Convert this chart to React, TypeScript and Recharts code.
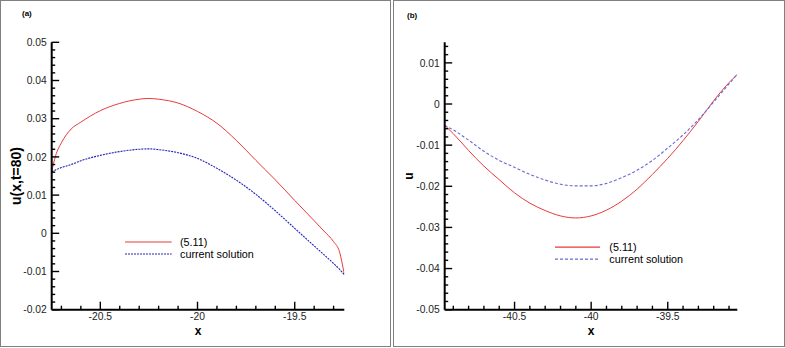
import { Legend, Line, LineChart, XAxis, YAxis } from "recharts";

// panel (a): u(x, t=80)
const xA = [-20.75, -20.73, -20.7, -20.65, -20.6, -20.5, -20.4, -20.3, -20.25, -20.2, -20.1, -20.0,
    -19.9, -19.8, -19.7, -19.6, -19.5, -19.4, -19.35, -19.3, -19.27, -19.245];
const exactA = [0.0161, 0.0203, 0.0237, 0.0273, 0.0291, 0.0321, 0.034, 0.0351, 0.0353, 0.0351, 0.0341, 0.0319,
    0.0288, 0.0243, 0.0191, 0.014, 0.0086, 0.0033, 0.0006, -0.0022, -0.0048, -0.0108];
const currentA = [0.0161, 0.0166, 0.0172, 0.018, 0.019, 0.0204, 0.0214, 0.022, 0.0221, 0.0219, 0.0211, 0.0196,
    0.017, 0.0139, 0.0102, 0.0059, 0.0013, -0.0033, -0.0056, -0.0079, -0.0094, -0.0108];

// panel (b): u
const xB = [-40.956, -40.9, -40.8, -40.7, -40.6, -40.5, -40.4, -40.3, -40.2, -40.1, -40.0,
    -39.9, -39.8, -39.7, -39.6, -39.5, -39.4, -39.3, -39.2, -39.1, -39.046];
const exactB = [-0.0052, -0.0072, -0.0113, -0.0151, -0.0184, -0.0216, -0.0241, -0.0259, -0.0272, -0.0277, -0.0272,
    -0.0258, -0.0236, -0.0207, -0.0171, -0.0132, -0.0089, -0.0042, 0.0008, 0.0052, 0.0072];
const currentB = [-0.0052, -0.0063, -0.0088, -0.0115, -0.0137, -0.0154, -0.0171, -0.0185, -0.0195, -0.0199, -0.0199,
    -0.0193, -0.0179, -0.0161, -0.0137, -0.0107, -0.0075, -0.0038, 0.0005, 0.0049, 0.0072];

const majorXTicksA = [-20.5, -20, -19.5];
const minorXTicksA = [-20.7, -20.6, -20.4, -20.3, -20.2, -20.1, -19.9, -19.8, -19.7, -19.6, -19.4, -19.3];
const majorYTicksA = [-0.02, -0.01, 0, 0.01, 0.02, 0.03, 0.04, 0.05];
const minorYTicksA = [-0.018, -0.016, -0.014, -0.012, -0.008, -0.006, -0.004, -0.002, 0.002, 0.004, 0.006, 0.008,
    0.012, 0.014, 0.016, 0.018, 0.022, 0.024, 0.026, 0.028, 0.032, 0.034, 0.036, 0.038, 0.042, 0.044, 0.046, 0.048];

const majorXTicksB = [-40.5, -40, -39.5];
const minorXTicksB = [-40.9, -40.8, -40.7, -40.6, -40.4, -40.3, -40.2, -40.1, -39.9, -39.8, -39.7, -39.6,
    -39.4, -39.3, -39.2, -39.1];
const majorYTicksB = [-0.05, -0.04, -0.03, -0.02, -0.01, 0, 0.01];
const minorYTicksB = [-0.048, -0.046, -0.044, -0.042, -0.038, -0.036, -0.034, -0.032, -0.028, -0.026, -0.024, -0.022,
    -0.018, -0.016, -0.014, -0.012, -0.008, -0.006, -0.004, -0.002, 0.002, 0.004, 0.006, 0.008, 0.012, 0.014];

const seriesNames = { exact: "(5.11)", current: "current solution" };

const FONT = "'Liberation Sans', Arial, sans-serif";
const TICK_FONT = 10.3;

const YTick = (props: any) => {
    const { x, y, payload, major } = props;
    const isMajor = major.includes(payload.value);
    return (
        <g>
            <line x1={x} x2={x + (isMajor ? 7.5 : 3.5)} y1={y} y2={y} stroke="#000" strokeWidth={1.4}/>
            {isMajor && (
                <text x={x - 5} y={y} dy="0.36em" textAnchor="end" fontSize={TICK_FONT} fontFamily={FONT} fill="#222">
                    {String(payload.value)}
                </text>
            )}
        </g>
    );
};

const XTick = (props: any) => {
    const { x, y, payload, major } = props;
    const isMajor = major.includes(payload.value);
    return (
        <g>
            <line x1={x} x2={x} y1={y} y2={y - (isMajor ? 8 : 4)} stroke="#000" strokeWidth={1.4}/>
            {isMajor && (
                <text x={x} y={y + 3} dy="0.75em" textAnchor="middle" fontSize={TICK_FONT} fontFamily={FONT} fill="#222">
                    {String(payload.value)}
                </text>
            )}
        </g>
    );
};

const LegendBox = ({ payload, dashes, rowHeight, lineLength, gap }: any) => (
    <div style={{ fontFamily: FONT, fontSize: 10.8, color: "#000" }}>
        {(payload || []).map((entry: any) => (
            <div key={entry.dataKey} style={{ display: "flex", alignItems: "center", height: rowHeight }}>
                <svg width={lineLength} height={rowHeight} style={{ display: "block" }}>
                    <line x1={0} x2={lineLength} y1={rowHeight / 2} y2={rowHeight / 2}
                          stroke={entry.color} strokeWidth={1.2} strokeDasharray={dashes[entry.dataKey]}/>
                </svg>
                <span style={{ marginLeft: gap, whiteSpace: "nowrap" }}>{entry.value}</span>
            </div>
        ))}
    </div>
);

interface PanelProps {
    xs: number[];
    exact: number[];
    current: number[];
    xDomain: [number, number];
    yDomain: [number, number];
    majorX: number[];
    minorX: number[];
    majorY: number[];
    minorY: number[];
    yLabel: string;
    yLabelSize: number;
    blue: string;
    blueDash: string;
    legendLeft: number;
    legendTop: number;
    legendRow: number;
    legendLine: number;
    legendGap: number;
    width: number;
}

const Panel = (p: PanelProps) => {
    const data = p.xs.map((x, i) => ({ x, exact: p.exact[i], current: p.current[i] }));
    return (
        <LineChart width={p.width} height={347} data={data}
                   margin={{ top: 42.3, left: 11.7, right: p.width - 344.3, bottom: 7.3 }}>
            <XAxis type="number" dataKey="x" domain={p.xDomain} allowDataOverflow
                   ticks={[...p.majorX, ...p.minorX]} interval={0} height={30}
                   tickSize={0} tickMargin={0} tickLine={false}
                   axisLine={{ stroke: "#000", strokeWidth: 2 }}
                   tick={(t: any) => <XTick {...t} major={p.majorX}/>}
                   label={{ value: "x", position: "center", dy: 6, fontSize: 12, fontWeight: "bold", fontFamily: FONT, fill: "#000" }}/>
            <YAxis type="number" domain={p.yDomain} allowDataOverflow
                   ticks={[...p.majorY, ...p.minorY]} interval={0} width={40}
                   tickSize={0} tickMargin={0} tickLine={false}
                   axisLine={{ stroke: "#000", strokeWidth: 2 }}
                   tick={(t: any) => <YTick {...t} major={p.majorY}/>}
                   label={{ value: p.yLabel, angle: -90, position: "center", dx: -16, fontSize: p.yLabelSize, fontWeight: "bold", fontFamily: FONT, fill: "#000" }}/>
            <Legend layout="vertical" align="center" verticalAlign="middle"
                    wrapperStyle={{ left: p.legendLeft, top: p.legendTop, width: "auto", height: "auto" }}
                    content={(props: any) => (
                        <LegendBox {...props} dashes={{ exact: undefined, current: p.blueDash }}
                                   rowHeight={p.legendRow} lineLength={p.legendLine} gap={p.legendGap}/>
                    )}/>
            <Line type="monotone" dataKey="exact" name={seriesNames.exact} stroke="#e83a3a" strokeWidth={1}
                  dot={false} isAnimationActive={false}/>
            <Line type="monotone" dataKey="current" name={seriesNames.current} stroke={p.blue} strokeWidth={1.1}
                  strokeDasharray={p.blueDash} dot={false} isAnimationActive={false}/>
        </LineChart>
    );
};

const boxStyle = {
    position: "absolute" as const,
    top: 0,
    height: 347,
    boxSizing: "border-box" as const,
    border: "1px solid #808080",
};

const App = () => {
    return (
        <div style={{ position: "fixed", left: 0, top: 0, width: 785, height: 348, background: "#fff", fontFamily: FONT }}>
            <div style={{ ...boxStyle, left: 0, width: 391 }}/>
            <div style={{ ...boxStyle, left: 393, width: 392 }}/>
            <div style={{ position: "absolute", left: 22, top: 9, fontSize: 8, fontWeight: "bold" }}>(a)</div>
            <div style={{ position: "absolute", left: 407, top: 11, fontSize: 8, fontWeight: "bold" }}>(b)</div>
            <div style={{ position: "absolute", left: 0, top: 0 }}>
                <Panel xs={xA} exact={exactA} current={currentA} xDomain={[-20.75, -19.245]} yDomain={[-0.02, 0.05]}
                       majorX={majorXTicksA} minorX={minorXTicksA} majorY={majorYTicksA} minorY={minorYTicksA}
                       yLabel="u(x,t=80)" yLabelSize={14} blue="#2424b8" blueDash="2 1"
                       legendLeft={125} legendTop={236.3} legendRow={12} legendLine={46.7} legendGap={8.3} width={391}/>
            </div>
            <div style={{ position: "absolute", left: 393, top: 0 }}>
                <Panel xs={xB} exact={exactB} current={currentB} xDomain={[-40.956, -39.046]} yDomain={[-0.05, 0.015]}
                       majorX={majorXTicksB} minorX={minorXTicksB} majorY={majorYTicksB} minorY={minorYTicksB}
                       yLabel="u" yLabelSize={12} blue="#6a6ad2" blueDash="3 2"
                       legendLeft={162.3} legendTop={240.7} legendRow={12.3} legendLine={45} legendGap={9} width={392}/>
            </div>
        </div>
    );
};

export default App;
